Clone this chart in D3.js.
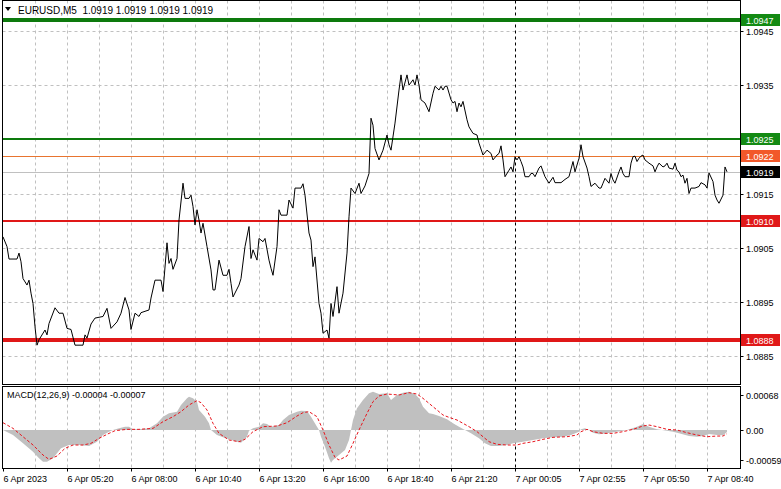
<!DOCTYPE html>
<html>
<head>
<meta charset="utf-8">
<script src="https://cdn.jsdelivr.net/npm/d3@7"></script>
<style>
  html, body { margin: 0; padding: 0; background: #fff; }
  svg { display: block; }
  text { font-family: "Liberation Sans", Arial, sans-serif; font-size: 9px; fill: #000; }
</style>
</head>
<body>
<svg id="chart" width="781" height="489"></svg>
<script>
// ---------------- DATA ----------------
const symbolTitle = "EURUSD,M5  1.0919 1.0919 1.0919 1.0919";
const macdTitle = "MACD(12,26,9) -0.00004 -0.00007";

// price line vertices: bar index and close
const priceBars = [0,2,3,7,8,9,10,12,13,14,15,16,17,18,21,22,23,26,28,30,32,34,36,40,41,42,44,46,50,52,54,57,59,61,63,64,66,68,69,73,74,76,79,80,82,83,84,85,87,88,90,91,93,94,95,96,97,98,99,100,102,104,105,106,108,110,112,113,114,115,118,119,121,123,124,125,127,128,130,131,133,134,135,137,138,139,142,143,145,146,149,150,151,153,154,155,156,158,159,160,162,163,164,165,167,168,170,172,173,174,176,178,179,181,183,184,185,186,188,190,192,193,194,196,198,199,200,202,203,205,206,207,208,209,211,213,215,216,218,219,220,221,222,224,225,226,227,228,229,230,232,233,235,237,238,240,242,244,245,247,248,249,250,251,253,254,255,256,257,258,259,260,261,263,264,265,266,268,269,271,273,275,276,279,281,283,285,286,288,289,290,292,293,294,296,298,299,300,301,303,304,305,306,308,309,310,311,313,314,315,316,317,318,319,320,321,323,325,326,327,328,330,331,332,333,335,336,337,338,339,340,341,342,343,344,346,348,349,351,352,353,355,356,357,358,360,361,362];
const closes = [1.09070,1.09052,1.09029,1.09029,1.09040,1.09024,1.08993,1.08981,1.08990,1.08966,1.08947,1.08904,1.08870,1.08880,1.08898,1.08889,1.08910,1.08939,1.08929,1.08929,1.08901,1.08899,1.08870,1.08870,1.08889,1.08883,1.08909,1.08920,1.08923,1.08938,1.08901,1.08913,1.08929,1.08958,1.08935,1.08899,1.08929,1.08923,1.08930,1.08935,1.08957,1.08990,1.08990,1.08969,1.09059,1.09021,1.09030,1.09010,1.09030,1.09101,1.09169,1.09141,1.09141,1.09147,1.09126,1.09092,1.09120,1.09101,1.09077,1.09095,1.09052,1.09009,1.08972,1.08972,1.09027,1.08999,1.08999,1.09010,1.08984,1.08959,1.08981,1.08993,1.09052,1.09089,1.09030,1.09046,1.09027,1.09067,1.09061,1.09067,1.09027,1.09012,1.08999,1.09052,1.09120,1.09110,1.09110,1.09138,1.09123,1.09160,1.09160,1.09168,1.09147,1.09077,1.09064,1.09015,1.09033,1.08947,1.08929,1.08892,1.08898,1.08883,1.08947,1.08923,1.08978,1.08929,1.08966,1.09040,1.09107,1.09160,1.09150,1.09169,1.09150,1.09164,1.09187,1.09289,1.09276,1.09233,1.09212,1.09230,1.09258,1.09240,1.09230,1.09280,1.09341,1.09369,1.09341,1.09369,1.09350,1.09360,1.09350,1.09369,1.09350,1.09323,1.09317,1.09301,1.09335,1.09348,1.09341,1.09348,1.09341,1.09348,1.09348,1.09323,1.09317,1.09320,1.09301,1.09317,1.09310,1.09320,1.09286,1.09273,1.09261,1.09258,1.09243,1.09221,1.09230,1.09224,1.09212,1.09221,1.09224,1.09238,1.09212,1.09181,1.09193,1.09199,1.09190,1.09218,1.09212,1.09218,1.09209,1.09199,1.09181,1.09181,1.09187,1.09187,1.09181,1.09197,1.09201,1.09181,1.09169,1.09180,1.09170,1.09170,1.09176,1.09181,1.09209,1.09190,1.09215,1.09240,1.09218,1.09197,1.09181,1.09163,1.09169,1.09160,1.09160,1.09169,1.09178,1.09169,1.09187,1.09175,1.09169,1.09190,1.09199,1.09187,1.09181,1.09181,1.09206,1.09218,1.09219,1.09209,1.09215,1.09219,1.09221,1.09212,1.09206,1.09201,1.09190,1.09199,1.09206,1.09199,1.09201,1.09206,1.09197,1.09195,1.09206,1.09193,1.09190,1.09181,1.09184,1.09169,1.09178,1.09150,1.09160,1.09160,1.09163,1.09170,1.09166,1.09160,1.09188,1.09172,1.09147,1.09138,1.09132,1.09147,1.09199,1.09190];

// MACD main (histogram) vertices
const macdBars = [0,5,10,15,18,20,22,25,29,33,38,43,47,50,53,55,58,61,63,65,68,73,77,80,83,87,89,92,93,95,97,98,101,103,104,107,110,113,117,119,122,123,125,128,130,132,134,138,140,143,147,149,152,154,157,158,159,161,163,164,165,168,171,173,174,175,177,180,183,185,188,192,194,197,200,203,206,208,210,213,215,218,222,225,228,231,234,238,241,244,248,252,255,260,265,270,275,280,284,288,289,291,293,295,298,302,307,312,317,320,323,327,332,335,338,343,347,350,353,357,360,362];
const macdVals = [0,-0.000097,-0.000259,-0.000421,-0.000550,-0.000615,-0.000615,-0.000550,-0.000356,-0.000291,-0.000291,-0.000311,-0.000227,-0.000097,-0.000032,0,0.000032,0.000065,0.000065,0.000013,0.000013,0.000032,0.000130,0.000259,0.000324,0.000356,0.000486,0.000615,0.000648,0.000615,0.000550,0.000389,0.000259,0.000130,0,-0.000097,-0.000142,-0.000181,-0.000227,-0.000246,-0.000130,-0.000013,0.000032,0.000065,0.000130,0.000117,0.000065,0.000097,0.000194,0.000291,0.000356,0.000376,0.000369,0.000259,0.000065,0,-0.000130,-0.000324,-0.000550,-0.000635,-0.000583,-0.000486,-0.000389,-0.000194,0,0.000194,0.000421,0.000583,0.000712,0.000745,0.000699,0.000712,0.000583,0.000680,0.000725,0.000745,0.000699,0.000615,0.000453,0.000324,0.000311,0.000272,0.000207,0.000130,0.000065,0,-0.000065,-0.000162,-0.000259,-0.000311,-0.000311,-0.000291,-0.000259,-0.000227,-0.000194,-0.000162,-0.000142,-0.000130,-0.000097,-0.000032,0.000013,0.000032,0,-0.000052,-0.000084,-0.000065,-0.000032,0,0.000065,0.000117,0.000065,0.000013,-0.000013,-0.000032,-0.000065,-0.000117,-0.000130,-0.000117,-0.000078,-0.000097,-0.000100,-0.00004];

// MACD signal vertices
const signalBars = [0,5,10,15,20,23,27,31,35,40,44,48,53,56,62,68,75,80,85,89,93,97,99,102,105,108,113,118,121,125,130,137,142,147,150,153,157,160,163,166,168,172,175,178,182,185,188,192,198,203,207,210,213,217,220,223,227,230,233,237,240,243,247,252,257,260,265,270,275,282,287,289,292,295,300,305,310,315,320,323,327,332,337,342,347,352,357,360,362];
const signalVals = [0.000142,0.000032,-0.000130,-0.000291,-0.000486,-0.000570,-0.000505,-0.000356,-0.000291,-0.000291,-0.000259,-0.000162,-0.000065,-0.000013,0.000013,0.000013,0.000032,0.000162,0.000259,0.000356,0.000486,0.000570,0.000531,0.000389,0.000130,-0.000065,-0.000194,-0.000227,-0.000181,-0.000032,0.000065,0.000078,0.000142,0.000272,0.000337,0.000356,0.000259,0,-0.000291,-0.000531,-0.000583,-0.000505,-0.000259,0,0.000324,0.000550,0.000661,0.000699,0.000680,0.000725,0.000699,0.000615,0.000518,0.000389,0.000291,0.000246,0.000194,0.000130,0.000065,-0.000032,-0.000130,-0.000227,-0.000278,-0.000291,-0.000291,-0.000259,-0.000227,-0.000181,-0.000142,-0.000130,-0.000097,-0.000032,0.000013,-0.000032,-0.000065,-0.000065,-0.000032,0.000013,0.000078,0.000097,0.000065,0.000013,0,-0.000052,-0.000097,-0.000130,-0.000117,-0.000117,-0.00007];

// axis ticks
const priceTicks = [1.0945, 1.0935, 1.0925, 1.0915, 1.0905, 1.0895, 1.0885];
const macdTicks = [0.00068, 0.00, -0.00059];
const macdTickLabels = ["0.00068", "0.00", "-0.00059"];
const timeTickBars = [0, 32, 64, 96, 128, 160, 192, 224, 256, 288, 320, 352];
const timeLabels = ["6 Apr 2023", "6 Apr 05:20", "6 Apr 08:00", "6 Apr 10:40", "6 Apr 13:20", "6 Apr 16:00",
                    "6 Apr 18:40", "6 Apr 21:20", "7 Apr 00:05", "7 Apr 02:55", "7 Apr 05:50", "7 Apr 08:40"];
const daySeparatorBar = 256;
// horizontal level lines
const levelPrices = [1.0947, 1.0925, 1.0922, 1.0919, 1.0910, 1.0888];

// ---------------- STYLES ----------------
const levelStyles = [
  { color: "#0d7a0d", width: 4, box: "#138a13", text: "#fff" },
  { color: "#0d7a0d", width: 2, box: "#138a13", text: "#fff" },
  { color: "#e8742f", width: 1, box: "#f2582a", text: "#fff" },
  { color: "#c0c0c0", width: 1, box: "#000000", text: "#fff" },
  { color: "#e01818", width: 2, box: "#e01818", text: "#fff" },
  { color: "#e01818", width: 4, box: "#e01818", text: "#fff" }
];

// ---------------- LAYOUT ----------------
const left = 2.5, right = 740.5;
const mainTop = 0.5, mainBottom = 384.5;
const macdTop = 386.5, macdBottom = 468.5;

const svg = d3.select("#chart");
svg.append("rect").attr("width", 781).attr("height", 489).attr("fill", "#fff");

const x = d3.scaleLinear().domain([0, 368.5]).range([3, 740]);
const y = d3.scaleLinear().domain([1.0885, 1.0945]).range([356, 31]);
const ym = d3.scaleLinear().domain([-0.00059, 0.00068]).range([460.4, 395]);

// vertical grid (every 16 bars)
const gridBars = d3.range(16, 368, 16);
[[mainTop, mainBottom], [macdTop, macdBottom]].forEach(([t, b]) => {
  svg.append("g").selectAll("line").data(gridBars.filter(d => d !== daySeparatorBar)).join("line")
    .attr("x1", d => Math.round(x(d)) + 0.5).attr("x2", d => Math.round(x(d)) + 0.5)
    .attr("y1", t).attr("y2", b)
    .attr("stroke", "#c0c0c0").attr("stroke-dasharray", "3,3");
});
// horizontal grid main
svg.append("g").selectAll("line").data(priceTicks).join("line")
  .attr("x1", left).attr("x2", right)
  .attr("y1", d => Math.round(y(d)) + 0.5).attr("y2", d => Math.round(y(d)) + 0.5)
  .attr("stroke", "#c0c0c0").attr("stroke-dasharray", "3,3");

// day separator
[[mainTop, mainBottom], [macdTop, macdBottom]].forEach(([t, b]) => {
  svg.append("line")
    .attr("x1", Math.round(x(daySeparatorBar)) + 0.5).attr("x2", Math.round(x(daySeparatorBar)) + 0.5)
    .attr("y1", t).attr("y2", b)
    .attr("stroke", "#000").attr("stroke-dasharray", "3,3");
});

// level lines
levelPrices.forEach((p, i) => {
  const s = levelStyles[i];
  const yy = Math.round(y(p)) + (s.width % 2 ? 0.5 : 0);
  svg.append("line").attr("x1", left).attr("x2", right)
    .attr("y1", yy).attr("y2", yy)
    .attr("stroke", s.color).attr("stroke-width", s.width);
});

// price line
const priceData = priceBars.map((b, i) => [b, closes[i]]);
svg.append("path").datum(priceData)
  .attr("fill", "none").attr("stroke", "#000").attr("stroke-width", 1)
  .attr("d", d3.line().x(d => x(d[0])).y(d => y(d[1])));

// MACD histogram
const macdData = macdBars.map((b, i) => [b, macdVals[i]]);
svg.append("path").datum(macdData)
  .attr("fill", "#c0c0c0").attr("stroke", "none")
  .attr("d", d3.area().x(d => x(d[0])).y0(ym(0)).y1(d => ym(d[1])));

// MACD signal
const sigData = signalBars.map((b, i) => [b, signalVals[i]]);
svg.append("path").datum(sigData)
  .attr("fill", "none").attr("stroke", "#e8141c").attr("stroke-width", 1)
  .attr("stroke-dasharray", "3,2")
  .attr("d", d3.line().x(d => x(d[0])).y(d => ym(d[1])));

// frames
svg.append("rect").attr("x", left).attr("y", mainTop).attr("width", right - left).attr("height", mainBottom - mainTop)
  .attr("fill", "none").attr("stroke", "#000");
svg.append("rect").attr("x", left).attr("y", macdTop).attr("width", right - left).attr("height", macdBottom - macdTop)
  .attr("fill", "none").attr("stroke", "#000");

// right price axis
const pAxis = svg.append("g");
priceTicks.forEach(p => {
  const yy = Math.round(y(p)) + 0.5;
  pAxis.append("line").attr("x1", right).attr("x2", right + 3).attr("y1", yy).attr("y2", yy).attr("stroke", "#000");
  pAxis.append("text").attr("x", 746).attr("y", yy + 3.5).text(d3.format(".4f")(p));
});
// level label boxes
levelPrices.forEach((p, i) => {
  const s = levelStyles[i];
  const yy = Math.round(y(p));
  pAxis.append("rect").attr("x", 741).attr("y", yy - 6).attr("width", 39).attr("height", 12).attr("fill", s.box);
  pAxis.append("text").attr("x", 746).attr("y", yy + 3.5).style("fill", s.text).text(d3.format(".4f")(p));
});

// MACD axis
macdTicks.forEach((v, i) => {
  const yy = Math.round(ym(v)) + 0.5;
  svg.append("line").attr("x1", right).attr("x2", right + 3).attr("y1", yy).attr("y2", yy).attr("stroke", "#000");
  svg.append("text").attr("x", 746).attr("y", yy + 3.5).text(macdTickLabels[i]);
});

// time axis
timeTickBars.forEach((b, i) => {
  const xx = Math.round(x(b)) + 0.5;
  svg.append("line").attr("x1", xx).attr("x2", xx).attr("y1", macdBottom).attr("y2", macdBottom + 3).attr("stroke", "#000");
  svg.append("text").attr("x", xx).attr("y", 482).text(timeLabels[i]);
});

// titles
svg.append("path").attr("d", "M5,7 L11,7 L8,11 Z").attr("fill", "#000");
svg.append("text").attr("x", 18).attr("y", 13.5).style("font-size", "10px").style("white-space", "pre").text(symbolTitle);
svg.append("text").attr("x", 7).attr("y", 398).text(macdTitle);
</script>
</body>
</html>
